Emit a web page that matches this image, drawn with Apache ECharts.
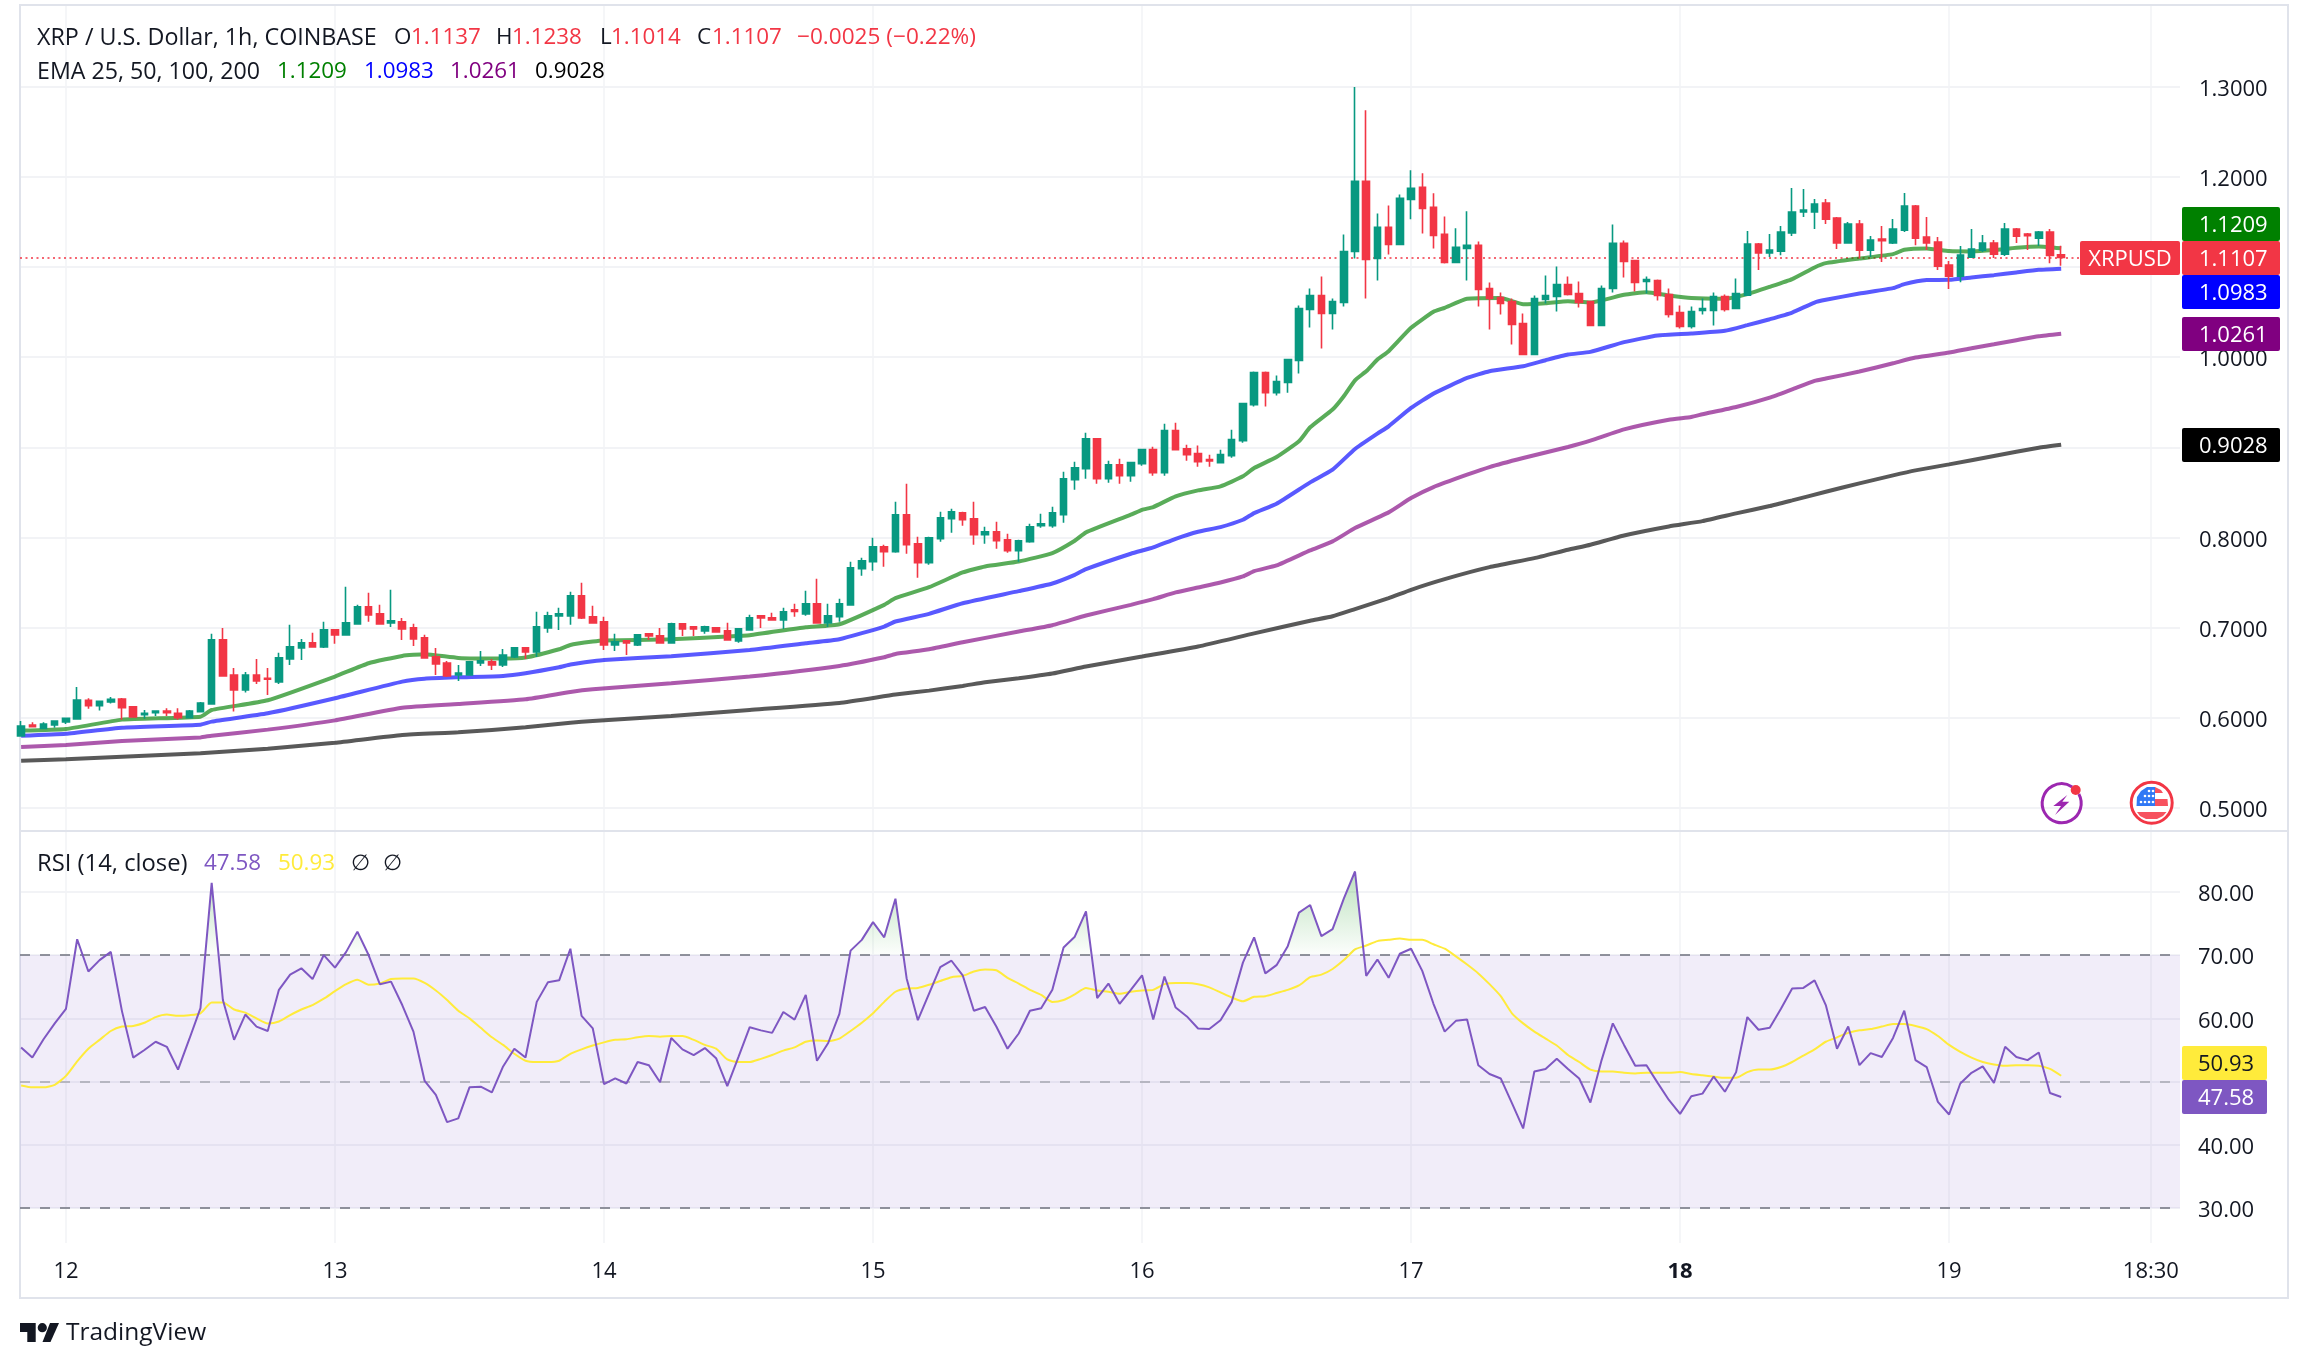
<!DOCTYPE html>
<html><head><meta charset="utf-8">
<style>html,body{margin:0;padding:0;background:#fff}#c{width:2308px;height:1369px}</style>
<script src="https://cdn.jsdelivr.net/npm/echarts@6/dist/echarts.min.js"></script>
</head><body><div id="c"></div>
<script>
// ---------- candles, one value per hourly bar ----------
const opens=[.5796,.5919,.5881,.5919,.5952,.5985,.6193,.6133,.6174,.6207,
.6119,.6033,.6056,.6074,.6048,.6000,.6067,.6152,.6863,.6474,
.6307,.6474,.6437,.6396,.6652,.6774,.6830,.6785,.6974,.6919,
.7041,.7230,.7152,.7052,.7063,.6996,.6885,.6674,.6607,.6474,
.6474,.6607,.6619,.6585,.6674,.6774,.6730,.6996,.7130,.7130,
.7352,.7119,.7063,.6807,.6852,.6807,.6930,.6907,.6830,.7041,
.7007,.6963,.6996,.6963,.6852,.6974,.7130,.7107,.7085,.7196,
.7152,.7263,.7052,.7119,.7252,.7652,.7730,.7896,.7841,.8252,
.7930,.7719,.7985,.8207,.8274,.8207,.8030,.8063,.7974,.7852,
.7952,.8130,.8130,.8252,.8641,.8763,.9096,.8652,.8807,.8685,
.8819,.8974,.8719,.9185,.8985,.8930,.8863,.8830,.8907,.9074,
.9474,.9830,.9607,.9719,.9963,1.0530,1.0685,1.0485,1.0607,1.1174,
1.1952,1.1096,1.1441,1.1252,1.1752,1.1885,1.1663,1.1363,1.1052,1.1207,
1.1241,1.0763,1.0663,1.0619,1.0374,1.0030,1.0641,1.0674,1.0807,1.0707,
1.0619,1.0352,1.0763,1.1263,1.1074,1.0841,1.0852,1.0696,1.0496,1.0341,
1.0519,1.0519,1.0674,1.0541,1.0689,1.1256,1.1156,1.1178,1.1378,1.1611,
1.1611,1.1711,1.1544,1.1267,1.1478,1.1189,1.1311,1.1267,1.1411,1.1678,
1.1333,1.1278,1.1022,1.0900,1.1111,1.1189,1.1267,1.1144,1.1422,1.1367,
1.1322,1.1389,1.1137];
const closes=[.5907,.5900,.5930,.5963,.5993,.6196,.6133,.6181,.6204,.6111,
.6007,.6048,.6074,.6056,.6000,.6074,.6163,.6863,.6463,.6307,
.6474,.6407,.6426,.6663,.6785,.6830,.6785,.6974,.6919,.7052,
.7230,.7141,.7041,.7074,.6985,.6874,.6663,.6596,.6463,.6496,
.6619,.6630,.6585,.6696,.6774,.6730,.7007,.7130,.7152,.7352,
.7107,.7052,.6807,.6841,.6830,.6919,.6907,.6830,.7041,.6985,
.6985,.7007,.6952,.6863,.6985,.7107,.7107,.7085,.7174,.7178,
.7263,.7052,.7130,.7263,.7663,.7741,.7896,.7841,.8252,.7919,
.7719,.7996,.8219,.8285,.8196,.8030,.8063,.7963,.7852,.7963,
.8119,.8152,.8274,.8652,.8774,.9096,.8652,.8807,.8685,.8830,
.8974,.8719,.9185,.8974,.8919,.8841,.8848,.8919,.9085,.9485,
.9830,.9607,.9730,.9974,1.0541,1.0685,1.0485,1.0619,1.1174,1.1952,
1.1085,1.1441,1.1252,1.1763,1.1874,1.1652,1.1352,1.1052,1.1219,1.1241,
1.0752,1.0652,1.0596,1.0363,1.0030,1.0652,1.0685,1.0807,1.0696,1.0607,
1.0352,1.0763,1.1263,1.1063,1.0830,1.0863,1.0685,1.0474,1.0341,1.0507,
1.0541,1.0674,1.0530,1.0707,1.1256,1.1156,1.1189,1.1389,1.1611,1.1633,
1.1700,1.1533,1.1267,1.1478,1.1189,1.1300,1.1293,1.1422,1.1678,1.1322,
1.1267,1.1011,1.0900,1.1133,1.1200,1.1267,1.1144,1.1422,1.1344,1.1348,
1.1389,1.1130,1.1107];
const lows=[.5789,.5893,.5881,.5889,.5930,.5985,.6100,.6078,.6156,.5978,
.6007,.5989,.6019,.6019,.5978,.6000,.6063,.6152,.6463,.6067,
.6278,.6374,.6252,.6374,.6585,.6641,.6785,.6774,.6819,.6919,
.7041,.7063,.7030,.7007,.6863,.6796,.6663,.6474,.6452,.6407,
.6474,.6574,.6530,.6563,.6663,.6652,.6674,.6941,.6974,.7030,
.7096,.7052,.6752,.6741,.6696,.6796,.6863,.6830,.6830,.6907,
.6907,.6930,.6941,.6863,.6830,.6974,.6996,.7074,.6985,.7119,
.7130,.7041,.7007,.7063,.7252,.7574,.7630,.7674,.7830,.7819,
.7552,.7696,.7952,.8052,.8130,.7919,.7930,.7874,.7830,.7730,
.7941,.8107,.8107,.8163,.8530,.8652,.8596,.8607,.8596,.8619,
.8796,.8685,.8685,.8974,.8852,.8785,.8785,.8830,.8885,.9052,
.9452,.9452,.9574,.9607,.9819,1.0330,1.0096,1.0307,1.0563,1.1096,
1.0652,1.0852,1.1141,1.1252,1.1530,1.1374,1.1207,1.1041,1.1052,1.0852,
1.0563,1.0307,1.0474,1.0141,1.0030,1.0030,1.0596,1.0507,1.0685,1.0552,
1.0352,1.0352,1.0719,1.0885,1.0730,1.0707,1.0630,1.0441,1.0319,1.0319,
1.0474,1.0352,1.0507,1.0541,1.0689,1.0967,1.1111,1.1133,1.1344,1.1556,
1.1422,1.1478,1.1200,1.1267,1.1096,1.1111,1.1056,1.1256,1.1389,1.1244,
1.1189,1.0967,1.0756,1.0833,1.1100,1.1167,1.1100,1.1122,1.1267,1.1189,
1.1233,1.1044,1.1014];
const highs=[.5963,.5948,.5948,.5963,.5996,.6341,.6215,.6185,.6230,.6219,
.6119,.6085,.6074,.6104,.6104,.6085,.6174,.6930,.6996,.6552,
.6507,.6652,.6552,.6719,.7030,.6874,.6941,.7063,.6985,.7452,
.7252,.7385,.7252,.7419,.7107,.7041,.6919,.6774,.6630,.6585,
.6619,.6741,.6652,.6763,.6785,.6774,.7174,.7174,.7219,.7396,
.7496,.7241,.7119,.6930,.6852,.6919,.6930,.6996,.7052,.7041,
.7007,.7019,.6996,.7052,.6985,.7141,.7130,.7163,.7219,.7263,
.7407,.7541,.7263,.7319,.7730,.7774,.7996,.7919,.8396,.8596,
.8007,.8007,.8285,.8319,.8285,.8396,.8119,.8174,.8041,.7974,
.8152,.8263,.8341,.8730,.8841,.9163,.9096,.8852,.8874,.8830,
.8985,.9007,.9263,.9274,.9030,.9019,.8919,.8974,.9196,.9496,
.9841,.9841,.9796,.9974,1.0574,1.0763,1.0896,1.0652,1.1363,1.3000,
1.2741,1.1596,1.1685,1.1807,1.2074,1.2041,1.1819,1.1563,1.1430,1.1619,
1.1285,1.0830,1.0719,1.0652,1.0485,1.0685,1.0907,1.1007,1.0896,1.0841,
1.0619,1.0796,1.1474,1.1296,1.1074,1.0896,1.0863,1.0763,1.0574,1.0563,
1.0652,1.0719,1.0696,1.0874,1.1400,1.1267,1.1367,1.1456,1.1878,1.1867,
1.1756,1.1756,1.1556,1.1500,1.1522,1.1344,1.1456,1.1533,1.1822,1.1689,
1.1556,1.1333,1.1067,1.1233,1.1422,1.1356,1.1300,1.1489,1.1433,1.1378,
1.1400,1.1422,1.1238];
// ---------- EMAs as [bar index, value], read at the visible vertices ----------
const ema25=[[0,.5856],[4,.5874],[9,.5978],[16,.6011],[17,.6085],[22,.6193],[28,.6456],[31,.6604],[34,.6685],[36,.6704],[39,.6663],[43,.6656],[45,.6667],[48,.6759],[49,.6807],[51,.6844],[52,.6856],[58,.6870],[63,.6900],[65,.6915],[70,.7004],[73,.7037],[77,.7252],[78,.7326],[81,.7448],[84,.7611],[86,.7678],[89,.7733],[92,.7826],[94,.7963],[95,.8056],[99,.8252],[100,.8307],[101,.8337],[103,.8456],[105,.8522],[107,.8567],[109,.8678],[110,.8770],[112,.8893],[114,.9067],[115,.9222],[117,.9419],[118,.9567],[119,.9744],[120,.9844],[121,.9974],[122,1.0067],[124,1.0326],[126,1.0504],[127,1.0548],[129,1.0648],[132,1.0656],[134,1.0589],[136,1.0600],[138,1.0622],[140,1.0607],[143,1.0693],[145,1.0722],[147,1.0685],[149,1.0656],[152,1.0648],[154,1.0700],[156,1.0781],[158,1.0867],[160,1.0996],[161,1.1044],[164,1.1096],[167,1.1144],[168,1.1193],[170,1.1207],[172,1.1178],[174,1.1174],[176,1.1189],[178,1.1215],[180,1.1230],[182,1.1209]];
const ema50=[[0,.5800],[4,.5822],[9,.5889],[16,.5922],[17,.5956],[22,.6048],[28,.6215],[34,.6400],[36,.6433],[39,.6448],[43,.6463],[45,.6493],[48,.6559],[49,.6589],[51,.6626],[52,.6641],[58,.6681],[65,.6752],[70,.6826],[73,.6870],[77,.7011],[78,.7067],[81,.7152],[84,.7270],[89,.7404],[92,.7489],[94,.7585],[95,.7648],[99,.7819],[101,.7889],[103,.7985],[105,.8063],[107,.8115],[109,.8196],[110,.8270],[112,.8374],[115,.8611],[117,.8752],[119,.8981],[121,.9152],[122,.9233],[124,.9437],[126,.9596],[129,.9770],[131,.9844],[134,.9900],[136,.9967],[138,1.0030],[140,1.0059],[143,1.0167],[146,1.0241],[149,1.0263],[152,1.0293],[154,1.0356],[156,1.0422],[158,1.0496],[160,1.0607],[161,1.0637],[164,1.0707],[167,1.0767],[168,1.0811],[170,1.0856],[172,1.0859],[174,1.0885],[176,1.0911],[178,1.0941],[180,1.0970],[182,1.0983]];
const ema100=[[0,.5674],[4,.5696],[9,.5741],[16,.5781],[17,.5800],[22,.5867],[28,.5970],[34,.6111],[39,.6152],[45,.6204],[49,.6285],[51,.6315],[58,.6381],[65,.6456],[73,.6574],[77,.6670],[78,.6707],[81,.6759],[84,.6837],[89,.6956],[92,.7026],[95,.7133],[99,.7252],[101,.7315],[103,.7390],[105,.7445],[107,.7500],[109,.7567],[110,.7626],[112,.7689],[115,.7856],[117,.7956],[119,.8104],[122,.8278],[124,.8437],[126,.8559],[129,.8696],[131,.8781],[134,.8881],[138,.9004],[140,.9074],[143,.9200],[147,.9307],[149,.9337],[150,.9367],[153,.9448],[156,.9552],[158,.9644],[160,.9737],[161,.9763],[164,.9841],[167,.9933],[169,.9996],[172,1.0052],[174,1.0100],[176,1.0144],[178,1.0189],[180,1.0233],[182,1.0261]];
const ema200=[[0,.5522],[4,.5537],[9,.5567],[16,.5604],[22,.5656],[28,.5722],[34,.5807],[39,.5837],[45,.5893],[49,.5944],[51,.5963],[58,.6019],[65,.6085],[73,.6163],[78,.6256],[81,.6300],[84,.6352],[86,.6393],[89,.6437],[92,.6489],[95,.6567],[100,.6678],[105,.6789],[110,.6935],[115,.7075],[117,.7125],[119,.7205],[122,.7326],[124,.7419],[127,.7537],[131,.7670],[135,.7770],[138,.7863],[140,.7919],[143,.8022],[147,.8122],[150,.8181],[153,.8267],[156,.8348],[158,.8411],[161,.8507],[164,.8600],[167,.8689],[169,.8744],[172,.8811],[176,.8904],[180,.8996],[182,.9028]];
// ---------- RSI and its moving average ----------
const rsi=[55.4,53.8,56.7,59.2,61.5,72.5,67.4,69.2,70.5,61.1,53.8,55.0,56.3,55.5,51.9,56.7,61.6,81.4,62.9,56.6,
60.6,58.7,58.0,64.5,66.9,67.9,66.2,70.0,68.0,70.5,73.7,70.0,65.4,65.8,62.1,57.9,50.1,47.9,43.6,44.2,
49.1,49.2,48.3,52.4,55.2,53.8,62.6,65.7,66.0,71.0,60.4,58.4,49.6,50.5,49.7,53.1,52.6,49.9,56.9,55.1,
54.2,55.3,53.7,49.3,53.9,58.6,58.1,57.7,61.0,59.8,63.7,53.3,56.1,60.7,70.7,72.4,75.2,72.8,78.9,66.3,
59.7,63.9,68.1,69.1,66.8,61.2,61.8,58.7,55.2,57.6,61.2,61.6,64.5,71.2,72.9,76.9,63.2,65.5,62.3,64.5,
66.8,59.8,66.6,61.7,60.3,58.4,58.3,59.7,62.6,68.8,72.8,67.1,68.4,71.4,76.7,77.9,73.0,74.1,78.9,83.2,
66.7,69.3,66.4,70.2,71.0,67.5,62.3,57.9,59.6,59.8,52.6,51.2,50.5,46.6,42.6,51.6,52.0,53.6,52.0,50.5,
46.7,53.4,59.2,55.8,52.5,52.6,49.8,47.1,44.9,47.7,48.1,50.8,48.4,51.5,60.2,58.2,58.5,61.5,64.7,64.8,
66.0,62.1,55.2,58.7,52.6,54.5,53.9,56.9,61.2,53.4,52.3,46.8,44.8,49.7,51.4,52.4,49.8,55.5,53.9,53.4,
54.6,48.2,47.58];
const rsiMa=[49.4,49.1,49.1,49.5,50.9,53.2,55.2,56.6,58.0,58.7,58.8,59.3,60.2,60.6,60.4,60.5,60.8,62.5,62.5,61.4,
60.9,60.0,59.2,59.5,60.5,61.4,62.1,63.1,64.3,65.4,66.1,65.3,65.5,66.2,66.3,66.3,65.6,64.4,62.9,61.2,
60.0,58.5,57.0,55.8,54.4,53.3,53.1,53.1,53.3,54.4,55.1,55.7,56.2,56.6,56.7,57.0,57.2,57.1,57.2,57.2,
56.6,55.8,55.2,53.5,53.1,53.1,53.6,54.2,54.9,55.4,56.3,56.5,56.4,56.8,58.0,59.3,60.8,62.6,64.2,64.7,
64.8,65.3,65.9,66.5,66.7,67.4,67.7,67.6,66.4,65.5,64.5,63.7,62.6,62.9,63.8,64.8,64.4,64.2,63.9,64.2,
64.4,64.5,65.4,65.6,65.6,65.4,64.9,64.1,63.3,62.7,63.4,63.5,64.0,64.5,65.2,66.5,66.9,67.8,69.2,70.9,
71.5,72.2,72.4,72.6,72.4,72.4,71.7,71.0,69.8,68.5,67.1,65.4,63.5,60.8,59.2,57.9,56.8,55.7,54.2,53.1,
51.9,51.6,51.6,51.4,51.3,51.4,51.4,51.4,51.5,51.2,51.0,50.8,50.6,50.6,51.5,51.9,51.9,52.3,53.1,54.1,
55.1,56.3,57.0,57.7,58.1,58.3,58.7,59.1,59.1,58.8,58.3,57.2,55.8,54.7,53.8,53.1,52.7,52.5,52.6,52.6,
52.5,52.0,50.93];
// ---------- ticks ----------
const priceTicks=[0.5,0.6,0.7,0.8,0.9,1.0,1.1,1.2,1.3];
const rsiTicks=[30,40,50,60,70,80];
const timeTicks=[4,28,52,76,100,124,148,172,190];
const timeLabels=['12','13','14','15','16','17','18','19','18:30'];
const lastClose=1.1107;

const FONT='"Open Sans"', TXT='#131722', UP='#089981', DOWN='#F23645';
const GRID='#F2F3F6';
const font=(s,w)=>(w?w+' ':'')+s+'px '+FONT;

function text(x,y,t,fill,size){return {type:'text',z:110,silent:true,style:{x,y:y+2,text:t,fill:fill||TXT,font:font(size||22.4),verticalAlign:'middle',align:'left'}};}
function tag(x,y,w,h,bg,t,fg,tx,align){return [
 {type:'rect',z:105,silent:true,shape:{x,y,width:w,height:h,r:2},style:{fill:bg}},
 {type:'text',z:110,silent:true,style:{x:tx,y:y+h/2+2,text:t,fill:fg,font:font(22),verticalAlign:'middle',align:align||'left'}}];}

const graphics=[
 // frame and pane separator
 {type:'rect',z:1,silent:true,shape:{x:20,y:5,width:2268,height:1293},style:{fill:'none',stroke:'#E0E3EB',lineWidth:2}},
 {type:'line',z:1,silent:true,shape:{x1:20,y1:831,x2:2288,y2:831},style:{stroke:'#E0E3EB',lineWidth:2}},
 // header
 text(37,36,'XRP / U.S. Dollar, 1h, COINBASE',TXT,23.3),
 text(394,36,'O'),text(411,36,'1.1137',DOWN),
 text(496,36,'H'),text(512,36,'1.1238',DOWN),
 text(600,36,'L'),text(611,36,'1.1014',DOWN),
 text(697,36,'C'),text(712,36,'1.1107',DOWN),
 text(797,36,'−0.0025 (−0.22%)',DOWN,22.6),
 text(37,70,'EMA 25, 50, 100, 200',TXT,23.2),
 text(277,70,'1.1209','#008000'),text(364,70,'1.0983','#0000FF'),
 text(450,70,'1.0261','#800080'),text(535,70,'0.9028','#000000'),
 text(37,862,'RSI (14, close)',TXT,23.8),
 text(204,862,'47.58','#7E57C2'),text(278,862,'50.93','#FFEB3B'),
 text(351,862,'∅'),text(383,862,'∅'),
 // price tags
 ...tag(2182,207,98,34,'#008000','1.1209','#fff',2199),
 ...tag(2080,241,100,34,DOWN,'XRPUSD','#fff',2130,'center'),
 ...tag(2182,241,98,34,DOWN,'1.1107','#fff',2199),
 ...tag(2182,275,98,34,'#0000FF','1.0983','#fff',2199),
 ...tag(2182,317,98,34,'#800080','1.0261','#fff',2199),
 ...tag(2182,428,98,34,'#000000','0.9028','#fff',2199),
 ...tag(2182,1046,85,34,'#FFEB3B','50.93','#131722',2198),
 ...tag(2182,1080,85,34,'#7E57C2','47.58','#fff',2198),
 // flash icon
 {type:'arc',z:105,silent:true,shape:{cx:2061.7,cy:803.3,r:19.5,startAngle:-0.5,endAngle:-1.0,clockwise:true},style:{stroke:'#9C27B0',lineWidth:3,fill:'none'}},
 {type:'polygon',z:105,silent:true,shape:{points:[[2067.3,795],[2053.3,806],[2061,806],[2055,815],[2069.3,801.7],[2062.3,801.7]]},style:{fill:'#9C27B0'}},
 {type:'circle',z:106,silent:true,shape:{cx:2075.7,cy:790,r:5},style:{fill:DOWN}},
 // flag icon
 {type:'circle',z:105,silent:true,shape:{cx:2151.7,cy:802.7,r:20.5},style:{fill:'#fff',stroke:DOWN,lineWidth:3}},
 {type:'polygon',z:106,silent:true,shape:{points:[[2155,787],[2161,790],[2163,793],[2155,793]]},style:{fill:'#F7525F'}},
 {type:'polygon',z:106,silent:true,shape:{points:[[2155,799],[2167.5,799],[2168,806],[2155,806]]},style:{fill:'#F7525F'}},
 {type:'polygon',z:106,silent:true,shape:{points:[[2137,812],[2166.5,812],[2163,816],[2157,819],[2146,819],[2140,816]]},style:{fill:'#F7525F'}},
 {type:'polygon',z:106,silent:true,shape:{points:[[2147,787],[2155,787],[2155,806],[2136.5,806],[2137,797],[2141,791]]},style:{fill:'#3179F5'}},
 ...[[2149,791],[2153,791],[2145,796],[2149,796],[2153,796],[2141,802],[2145,802],[2149,802],[2153,802]].map(p=>({type:'circle',z:107,silent:true,shape:{cx:p[0],cy:p[1],r:1.3},style:{fill:'#fff'}})),
 // TradingView logo
 {type:'polygon',z:105,silent:true,shape:{points:[[20,1323],[35.7,1323],[35.7,1342],[27.3,1342],[27.3,1332],[20,1332]]},style:{fill:TXT}},
 {type:'circle',z:105,silent:true,shape:{cx:42.3,cy:1327.7,r:4.6},style:{fill:TXT}},
 {type:'polygon',z:105,silent:true,shape:{points:[[50,1323],[59,1323],[50.5,1342],[42.5,1342]]},style:{fill:TXT}},
 text(66,1331,'TradingView',TXT,24.5)
];

const emaLine=(name,data,color)=>({name,type:'line',xAxisIndex:0,yAxisIndex:0,data,showSymbol:false,symbol:'none',smooth:0.15,z:3,silent:true,
  lineStyle:{color,width:4,opacity:0.65}});

const axisRich={a:{padding:[6,0,0,0],fontSize:22,fontFamily:FONT,color:TXT}};
const chart=echarts.init(document.getElementById('c'),null,{renderer:'canvas',width:2308,height:1369});
const xBase={type:'value',min:-0.1,max:192.6,axisLine:{show:false},axisTick:{show:false,customValues:timeTicks},
  splitLine:{show:true,lineStyle:{color:GRID,width:1.5}}};
chart.setOption({
 animation:false,backgroundColor:'#fff',
 textStyle:{fontFamily:FONT},
 grid:[{left:20,right:128,top:5,height:826},{left:20,right:128,top:831,height:412}],
 xAxis:[
  Object.assign({},xBase,{gridIndex:0,axisLabel:{show:false}}),
  Object.assign({},xBase,{gridIndex:1,axisLabel:{show:true,customValues:timeTicks,color:TXT,fontSize:22,fontFamily:FONT,margin:18,hideOverlap:false,
    formatter:v=>{const t=timeLabels[timeTicks.indexOf(v)];return t==='18'?'{b|18}':t;},
    rich:{b:{fontWeight:'bold',fontSize:22,fontFamily:FONT,color:TXT}}}})
 ],
 yAxis:[
  {type:'value',gridIndex:0,position:'right',min:0.4742,max:1.3909,axisLine:{show:false},axisTick:{show:false,customValues:priceTicks},
   splitLine:{show:true,lineStyle:{color:GRID,width:2}},
   axisLabel:{customValues:priceTicks,color:TXT,fontSize:22,fontFamily:FONT,margin:19,rich:axisRich,formatter:v=>'{a|'+v.toFixed(4)+'}'}},
  {type:'value',gridIndex:1,position:'right',min:24.5,max:89.6,axisLine:{show:false},axisTick:{show:false,customValues:rsiTicks},
   splitLine:{show:true,lineStyle:{color:GRID,width:2}},
   axisLabel:{customValues:rsiTicks,color:TXT,fontSize:22,fontFamily:FONT,margin:18,rich:axisRich,formatter:v=>'{a|'+v.toFixed(2)+'}'}}
 ],
 series:[
  {name:'XRPUSD',type:'candlestick',xAxisIndex:0,yAxisIndex:0,z:4,silent:true,barWidth:7,
   data:opens.map((o,i)=>[i,o,closes[i],lows[i],highs[i]]),
   itemStyle:{color:UP,color0:DOWN,borderColor:UP,borderColor0:DOWN,borderWidth:1.6},
   markLine:{silent:true,symbol:'none',label:{show:false},animation:false,z:2,
     lineStyle:{color:DOWN,type:[2,3.5],width:1.6},data:[{yAxis:lastClose}]}},
  emaLine('EMA 25',ema25,'#008000'),
  emaLine('EMA 50',ema50,'#0000FF'),
  emaLine('EMA 100',ema100,'#800080'),
  emaLine('EMA 200',ema200,'#000000'),
  {name:'RSI',type:'line',xAxisIndex:1,yAxisIndex:1,data:rsi.map((v,i)=>[i,v]),symbol:'none',z:4,silent:true,
   lineStyle:{color:'#7E57C2',width:2},
   areaStyle:{origin:70,opacity:1,color:{type:'linear',global:true,x:0,y:875,x2:0,y2:955,colorStops:[
     {offset:0,color:'rgba(76,175,80,0.36)'},{offset:0.99,color:'rgba(76,175,80,0.02)'},{offset:1,color:'rgba(76,175,80,0)'}]}},
   markArea:{silent:true,z:1,itemStyle:{color:'rgba(126,87,194,0.105)'},label:{show:false},data:[[{yAxis:30},{yAxis:70}]]},
   markLine:{silent:true,symbol:'none',label:{show:false},animation:false,z:2,data:[
     {yAxis:70,lineStyle:{color:'#787B86',type:[10,10],width:1.6}},
     {yAxis:50,lineStyle:{color:'#ABABB5',type:[10,10],width:1.6}},
     {yAxis:30,lineStyle:{color:'#787B86',type:[10,10],width:1.6}}]}},
  {name:'RSI MA',type:'line',xAxisIndex:1,yAxisIndex:1,data:rsiMa.map((v,i)=>[i,v]),symbol:'none',smooth:0.2,z:3,silent:true,
   lineStyle:{color:'#FFEB3B',width:2}}
 ],
 graphic:{elements:graphics}
});
</script></body></html>
